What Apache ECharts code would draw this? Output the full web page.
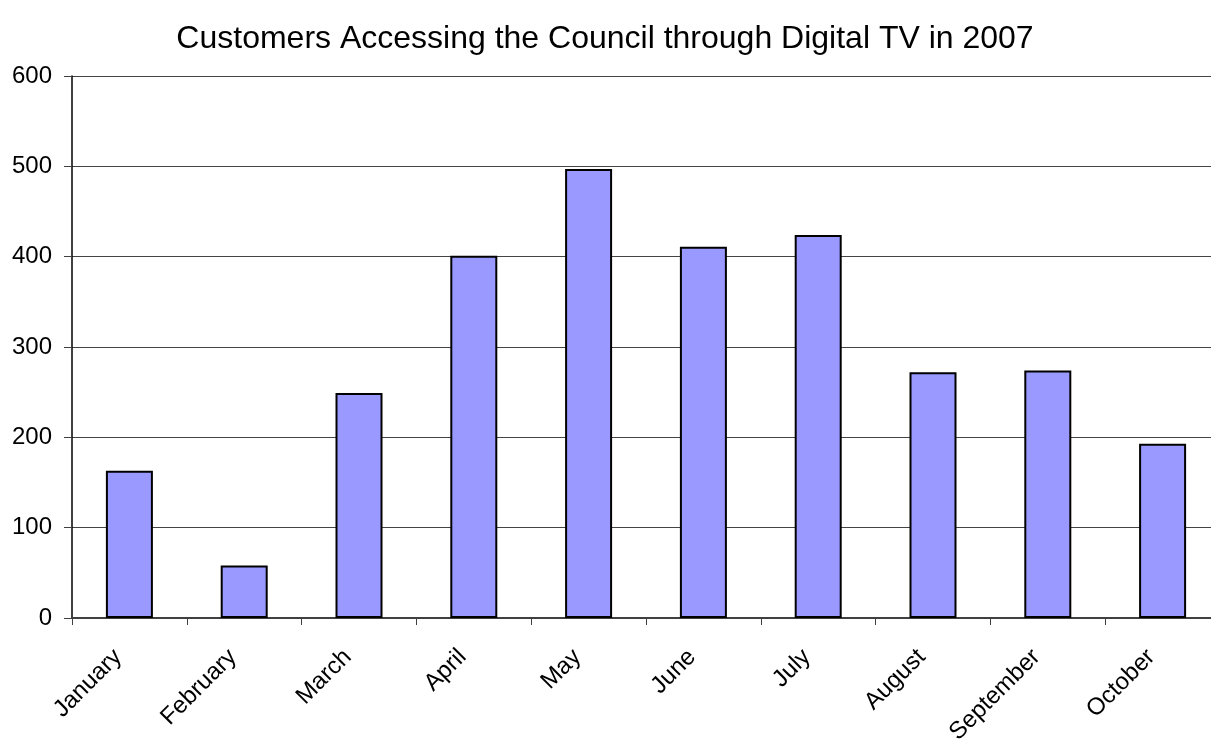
<!DOCTYPE html>
<html>
<head>
<meta charset="utf-8">
<script src="https://cdn.jsdelivr.net/npm/echarts@6/dist/echarts.min.js"></script>
<style>
  html, body { margin: 0; padding: 0; background: #ffffff; }
  #chart { width: 1211px; height: 742px; }
</style>
</head>
<body>
<div id="chart"></div>
<script>
// Monthly counts of customers using the Digital TV service
const months = ['January', 'February', 'March', 'April', 'May', 'June', 'July', 'August', 'September', 'October'];
const customers = [163, 58, 249, 401, 497, 411, 424, 272, 274, 193];
const yTicks = [0, 100, 200, 300, 400, 500, 600];

const font = '"Liberation Sans", Arial, sans-serif';
const chart = echarts.init(document.getElementById('chart'), null, { renderer: 'canvas' });

chart.setOption({
  animation: false,
  backgroundColor: '#ffffff',
  title: {
    text: 'Customers Accessing the Council through Digital TV in 2007',
    left: 600,
    textAlign: 'center',
    top: 18,
    textStyle: { fontFamily: font, fontSize: 32, fontWeight: 'normal', color: '#000000' }
  },
  // plot area runs slightly past the right edge of the canvas
  grid: {
    left: 72, width: 1148, top: 76, bottom: 124,
    containLabel: false,
    outerBoundsMode: 'none'
  },
  xAxis: {
    type: 'category',
    data: months,
    boundaryGap: true,
    axisLine: { show: true, lineStyle: { color: '#404040', width: 2 } },
    axisTick: { show: true, alignWithLabel: false, length: 7, lineStyle: { color: '#404040', width: 1 } },
    axisLabel: {
      interval: 0,
      rotate: 45,
      margin: 24,
      padding: [0, 16, 0, 0],
      fontFamily: font,
      fontSize: 24,
      color: '#000000'
    },
    splitLine: { show: false }
  },
  yAxis: {
    type: 'value',
    min: yTicks[0],
    max: yTicks[yTicks.length - 1],
    interval: 100,
    axisLine: { show: true, lineStyle: { color: '#000000', width: 1.5 } },
    axisTick: { show: true, length: 8, lineStyle: { color: '#404040', width: 1 } },
    axisLabel: { fontFamily: font, fontSize: 24, color: '#000000', margin: 20 },
    splitLine: { show: true, lineStyle: { color: '#444444', width: 1 } }
  },
  series: [{
    type: 'bar',
    data: customers,
    barWidth: 47,
    itemStyle: { color: '#9999FF', borderColor: '#000000', borderWidth: 2 }
  }]
});
</script>
</body>
</html>
